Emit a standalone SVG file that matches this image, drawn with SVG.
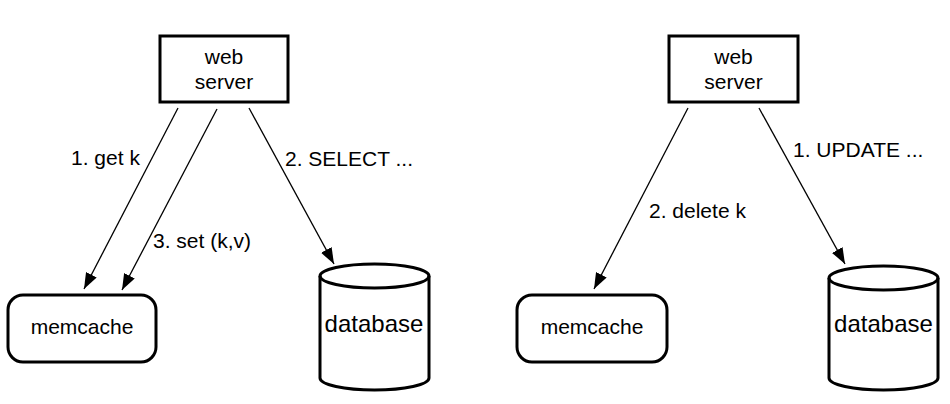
<svg xmlns="http://www.w3.org/2000/svg" width="950" height="404" viewBox="0 0 950 404">
<style>
.box{fill:#fff;stroke:#000;stroke-width:3}
.lbl{font-family:"Liberation Sans",Arial,Helvetica,sans-serif;font-size:21px;fill:#000}
.mid{text-anchor:middle}
.edge{stroke:#000;stroke-width:1.3;fill:none;marker-end:url(#arr)}
</style>
<defs>
<marker id="arr" viewBox="0 0 16 12" markerWidth="16" markerHeight="12" refX="16" refY="6" orient="auto" markerUnits="userSpaceOnUse">
<path d="M0,0 L16,6 L0,12 z" fill="#000"/>
</marker>
</defs>
<rect width="950" height="404" fill="#fff"/>
<g id="connectors">
<line class="edge" x1="178" y1="108" x2="84" y2="289"/>
<line class="edge" x1="217" y1="109" x2="122" y2="290"/>
<line class="edge" x1="249" y1="108" x2="334" y2="264"/>
<line class="edge" x1="688" y1="108" x2="594" y2="289"/>
<line class="edge" x1="759" y1="108" x2="845" y2="264"/>
<text class="lbl" x="71" y="165">1. get k</text>
<text class="lbl" x="153" y="248">3. set (k,v)</text>
<text class="lbl" x="285" y="166">2. SELECT ...</text>
<text class="lbl" x="649" y="218">2. delete k</text>
<text class="lbl" x="793" y="157">1. UPDATE ...</text>
</g>
<g id="webserver1">
<rect class="box" x="160" y="36" width="128" height="66"/>
<text class="lbl mid" x="224" y="64">web</text>
<text class="lbl mid" x="224" y="89">server</text>
</g>
<g id="memcache1">
<rect class="box" x="8" y="295" width="148" height="67" rx="15" ry="15"/>
<text class="lbl mid" x="82" y="334">memcache</text>
</g>
<g id="database1">
<path class="box" d="M320,276 L320,378 A54.5,12 0 0 0 429,378 L429,276 A54.5,12 0 0 0 320,276 Z"/>
<path d="M320,276 A54.5,12 0 0 0 429,276" fill="none" stroke="#000" stroke-width="3"/>
<text class="lbl mid" x="374" y="332" style="font-size:24px">database</text>
</g>
<g id="webserver2">
<rect class="box" x="669" y="36" width="129" height="66"/>
<text class="lbl mid" x="733.5" y="64">web</text>
<text class="lbl mid" x="733.5" y="89">server</text>
</g>
<g id="memcache2">
<rect class="box" x="517" y="295" width="150" height="67" rx="15" ry="15"/>
<text class="lbl mid" x="592" y="334">memcache</text>
</g>
<g id="database2">
<path class="box" d="M829,278 L829,378 A54.5,12 0 0 0 938,378 L938,278 A54.5,12 0 0 0 829,278 Z"/>
<path d="M829,278 A54.5,12 0 0 0 938,278" fill="none" stroke="#000" stroke-width="3"/>
<text class="lbl mid" x="883.5" y="332" style="font-size:24px">database</text>
</g>
</svg>
